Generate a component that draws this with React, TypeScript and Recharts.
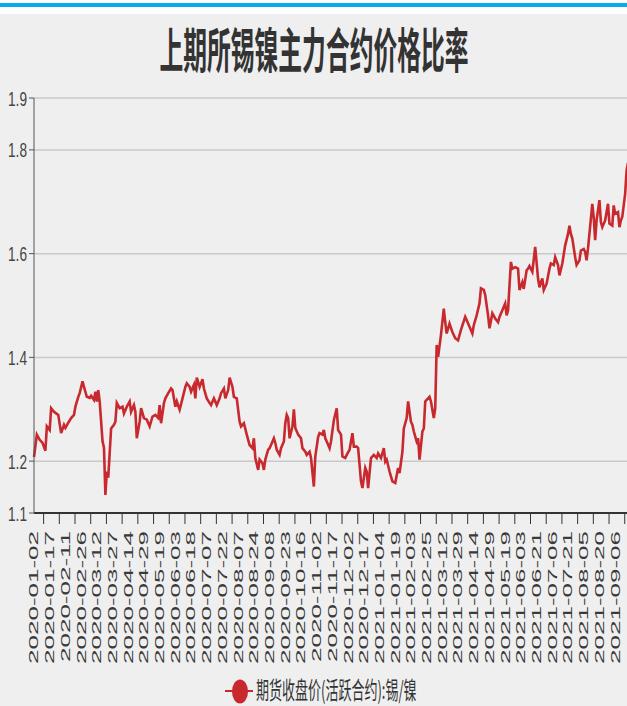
import React from 'react';
import { LineChart, Line, XAxis, YAxis, CartesianGrid, Legend } from 'recharts';

const title = '上期所锡镍主力合约价格比率';
const seriesName = '期货收盘价(活跃合约):锡/镍';

const tickLabels = [
  '2020-01-02', '2020-01-17', '2020-02-11', '2020-02-26', '2020-03-12', '2020-03-27',
  '2020-04-14', '2020-04-29', '2020-05-19', '2020-06-03', '2020-06-18', '2020-07-07',
  '2020-07-22', '2020-08-07', '2020-08-24', '2020-09-08', '2020-09-23', '2020-10-16',
  '2020-11-02', '2020-11-17', '2020-12-02', '2020-12-17', '2021-01-04', '2021-01-19',
  '2021-02-03', '2021-02-25', '2021-03-12', '2021-03-29', '2021-04-14', '2021-04-29',
  '2021-05-19', '2021-06-03', '2021-06-21', '2021-07-06', '2021-07-21', '2021-08-05',
  '2021-08-20', '2021-09-06',
];
// trading days between labelled ticks
const tradingDaysPerTick = 11;

const yTicks = [1.1, 1.2, 1.4, 1.6, 1.8, 1.9];

// trading-day index (0 = 2020-01-02)
const dayIndex = [
  0, 2, 4, 6, 8, 9, 11, 12, 14, 15, 17, 19, 21, 22, 24, 26, 28, 29, 31, 32,
  34, 35, 37, 39, 40, 42, 43, 44, 45, 46, 48, 49, 50, 51, 52, 54, 56, 57, 58, 60,
  62, 63, 65, 67, 68, 70, 71, 72, 74, 75, 77, 79, 81, 83, 85, 87, 88, 89, 91, 92,
  94, 96, 97, 99, 100, 102, 104, 106, 107, 109, 110, 112, 113, 114, 116, 118, 119, 121, 123, 124,
  126, 128, 130, 131, 133, 134, 136, 137, 139, 140, 142, 144, 145, 147, 149, 151, 153, 154, 155, 157,
  158, 160, 161, 162, 164, 165, 166, 168, 169, 170, 172, 173, 175, 176, 177, 178, 179, 181, 182, 183,
  185, 187, 188, 190, 191, 193, 194, 196, 197, 199, 200, 202, 203, 204, 205, 207, 208, 210, 212, 213,
  215, 216, 218, 219, 221, 223, 224, 226, 227, 229, 230, 232, 233, 234, 236, 238, 240, 241, 243, 245,
  246, 247, 249, 251, 253, 255, 256, 258, 259, 261, 262, 264, 265, 266, 268, 269, 270, 272, 273, 274,
  275, 277, 278, 280, 281, 282, 283, 285, 287, 288, 289, 291, 293, 295, 297, 299, 302, 303, 305, 307,
  308, 310, 312, 313, 315, 316, 318, 319, 321, 323, 325, 326, 328, 330, 331, 332, 334, 335, 337, 339,
  340, 342, 343, 345, 346, 347, 349, 351, 353, 354, 355, 356, 357, 359, 361, 362, 364, 365, 367, 368,
  370, 372, 374, 375, 376, 377, 379, 380, 382, 383, 385, 386, 387, 388, 390, 391, 392, 393, 394, 396,
  397, 398, 400, 402, 403, 405, 406, 407, 409, 410, 411, 412, 414, 415, 416,
];

// tin / nickel price ratio
const ratio = [
  1.208, 1.251, 1.241, 1.235, 1.220, 1.267, 1.260, 1.302, 1.295, 1.293, 1.289, 1.254, 1.270, 1.264, 1.274, 1.283, 1.289, 1.305, 1.324, 1.331,
  1.354, 1.343, 1.324, 1.322, 1.326, 1.318, 1.334, 1.315, 1.337, 1.315, 1.238, 1.226, 1.135, 1.180, 1.168, 1.263, 1.270, 1.276, 1.312, 1.302,
  1.305, 1.292, 1.305, 1.315, 1.295, 1.308, 1.295, 1.244, 1.276, 1.302, 1.283, 1.280, 1.267, 1.286, 1.289, 1.283, 1.308, 1.273, 1.312, 1.321,
  1.331, 1.340, 1.337, 1.305, 1.315, 1.299, 1.321, 1.343, 1.350, 1.343, 1.334, 1.347, 1.321, 1.361, 1.343, 1.358, 1.340, 1.321, 1.312, 1.308,
  1.321, 1.308, 1.321, 1.331, 1.340, 1.321, 1.337, 1.361, 1.343, 1.324, 1.321, 1.276, 1.267, 1.273, 1.251, 1.231, 1.225, 1.244, 1.206, 1.183,
  1.203, 1.196, 1.183, 1.203, 1.222, 1.225, 1.231, 1.244, 1.235, 1.222, 1.212, 1.225, 1.238, 1.273, 1.289, 1.283, 1.244, 1.267, 1.300, 1.264,
  1.251, 1.244, 1.225, 1.218, 1.212, 1.218, 1.206, 1.151, 1.209, 1.247, 1.254, 1.251, 1.260, 1.244, 1.238, 1.225, 1.238, 1.279, 1.302, 1.260,
  1.251, 1.209, 1.206, 1.212, 1.222, 1.254, 1.228, 1.228, 1.225, 1.161, 1.148, 1.187, 1.180, 1.148, 1.206, 1.212, 1.206, 1.215, 1.206, 1.225,
  1.199, 1.203, 1.180, 1.161, 1.158, 1.187, 1.177, 1.218, 1.263, 1.283, 1.315, 1.276, 1.270, 1.257, 1.238, 1.244, 1.203, 1.257, 1.263, 1.315,
  1.318, 1.324, 1.315, 1.283, 1.302, 1.424, 1.401, 1.443, 1.494, 1.468, 1.446, 1.465, 1.449, 1.437, 1.433, 1.453, 1.478, 1.472, 1.459, 1.446,
  1.462, 1.481, 1.504, 1.533, 1.530, 1.520, 1.481, 1.456, 1.485, 1.475, 1.468, 1.478, 1.491, 1.504, 1.481, 1.491, 1.584, 1.571, 1.574, 1.571,
  1.530, 1.545, 1.532, 1.568, 1.571, 1.576, 1.565, 1.613, 1.552, 1.535, 1.545, 1.552, 1.530, 1.542, 1.571, 1.581, 1.578, 1.593, 1.578, 1.558,
  1.581, 1.616, 1.638, 1.654, 1.638, 1.629, 1.593, 1.578, 1.587, 1.606, 1.609, 1.603, 1.587, 1.610, 1.667, 1.696, 1.670, 1.626, 1.664, 1.703,
  1.661, 1.651, 1.664, 1.696, 1.658, 1.654, 1.693, 1.677, 1.680, 1.651, 1.664, 1.671, 1.715, 1.760, 1.775,
];

const data = dayIndex.map((d, k) => ({ day: d, ratio: ratio[k] }));
const xTicks = tickLabels.map((_, k) => k * tradingDaysPerTick);
const labelOf: Record<number, string> = {};
xTicks.forEach((t, k) => { labelOf[t] = tickLabels[k]; });

const LINE_COLOR = '#c8292e';
const BG = '#efefef';

const YTick = (props: any) => {
  const { x, y, payload } = props;
  return (
    <text
      transform={`translate(${x},${y}) scale(0.65,1)`}
      textAnchor="end"
      dy="0.36em"
      fontSize={21}
      fill="#444"
      fontFamily="'Liberation Sans', Arial, sans-serif"
    >
      {String(payload.value)}
    </text>
  );
};

const XTick = (props: any) => {
  const { x, y, payload } = props;
  return (
    <g transform={`translate(${x},${y})`}>
      <line x1={9.6} x2={9.6} y1={0} y2={11} stroke="#333" strokeWidth={1} />
      <text
        transform="translate(4.4,18) rotate(-90) scale(1,0.484)"
        textAnchor="end"
        fontSize={26}
        fill="#3a3a3a"
        fontFamily="'Liberation Sans', Arial, sans-serif"
      >
        {labelOf[payload.value] ?? ''}
      </text>
    </g>
  );
};

const LegendContent = (props: any) => {
  const name = props.payload && props.payload[0] ? props.payload[0].value : seriesName;
  return (
    <div style={{ position: 'relative', height: 30, width: 627, margin: 0, padding: 0 }}>
      <svg width={260} height={30} style={{ position: 'absolute', left: 0, top: 0, display: 'block' }}>
        <line x1={225} x2={253} y1={15} y2={15} stroke={LINE_COLOR} strokeWidth={2} />
        <ellipse cx={240} cy={15.5} rx={8} ry={12} fill={LINE_COLOR} />
      </svg>
      <div
        style={{
          position: 'absolute',
          left: 256,
          top: -5,
          lineHeight: 'normal',
          fontSize: 24,
          whiteSpace: 'nowrap',
          color: '#333',
          fontFamily: "'Noto Sans CJK SC', sans-serif",
          transform: 'scaleX(0.542)',
          transformOrigin: '0 50%',
        }}
      >
        {name}
      </div>
    </div>
  );
};

export default function App() {
  return (
    <div
      style={{
        position: 'absolute',
        left: 0,
        top: 0,
        width: 627,
        height: 706,
        overflow: 'hidden',
        background: BG,
      }}
    >
      <div style={{ position: 'absolute', left: 0, top: 0, width: 627, height: 14, background: '#ffffff' }} />
      <div style={{ position: 'absolute', left: 0, top: 3, width: 627, height: 4, background: '#00aeef' }} />
      <div
        style={{
          position: 'absolute',
          left: 0,
          top: 21,
          width: 627,
          height: 52,
          lineHeight: '52px',
          textAlign: 'center',
          whiteSpace: 'nowrap',
        }}
      >
        <span
          style={{
            display: 'inline-block',
            fontSize: 48,
            fontWeight: 700,
            color: '#333',
            fontFamily: "'Noto Sans CJK SC', sans-serif",
            transform: 'scaleX(0.495)',
            transformOrigin: '50% 50%',
            marginLeft: 2,
          }}
        >
          {title}
        </span>
      </div>
      <div style={{ position: 'absolute', left: 0, top: 0 }}>
        <LineChart
          width={630}
          height={706}
          data={data}
          margin={{ top: 98, right: 2, bottom: 0, left: 0 }}
        >
          <CartesianGrid horizontal vertical={false} stroke="#c9c9c9" strokeWidth={1.5} />
          <XAxis
            dataKey="day"
            type="number"
            domain={[0, 416]}
            ticks={xTicks}
            interval={0}
            height={163}
            tickSize={0}
            tickMargin={0}
            tickLine={false}
            axisLine={{ stroke: '#333', strokeWidth: 2 }}
            tick={<XTick />}
          />
          <YAxis
            type="number"
            domain={[1.1, 1.9]}
            ticks={yTicks}
            interval={0}
            width={34}
            tickSize={5}
            tickMargin={2}
            tickLine={{ stroke: '#555' }}
            axisLine={{ stroke: '#555' }}
            tick={<YTick />}
          />
          <Legend verticalAlign="bottom" content={<LegendContent />} />
          <Line
            type="linear"
            dataKey="ratio"
            name={seriesName}
            stroke={LINE_COLOR}
            strokeWidth={2.6}
            dot={false}
            activeDot={false}
            isAnimationActive={false}
          />
        </LineChart>
      </div>
    </div>
  );
}
